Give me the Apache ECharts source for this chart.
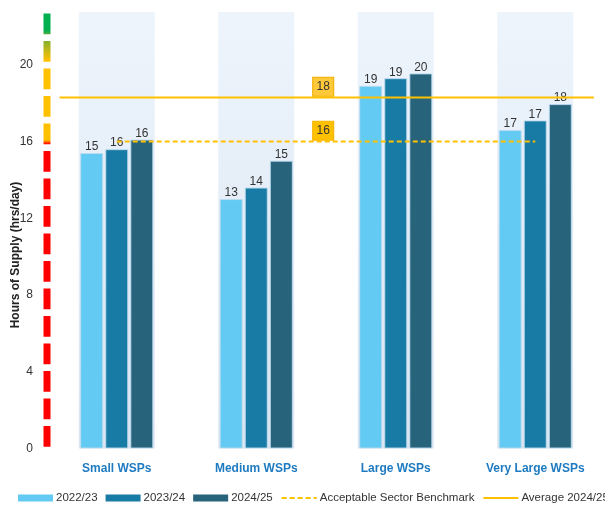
<!DOCTYPE html>
<html>
<head>
<meta charset="utf-8">
<script src="https://cdn.jsdelivr.net/npm/echarts@6/dist/echarts.min.js"></script>
<style>
html,body{margin:0;padding:0;background:#fff;}
#chart{width:605px;height:506px;}
</style>
</head>
<body>
<div id="chart"></div>
<script>
// ---- data ----
const categories = ['Small WSPs', 'Medium WSPs', 'Large WSPs', 'Very Large WSPs'];
const seriesNames = ['2022/23', '2023/24', '2024/25'];
const values2022 = [15.4, 13.0, 18.9, 16.6];
const values2023 = [15.6, 13.6, 19.3, 17.1];
const values2024 = [16.1, 15.0, 19.55, 17.95];
const benchmarkName = 'Acceptable Sector Benchmark';
const benchmarkValue = 16.0;
const benchmarkSpan = [0.5, 3.5];      // category-position extent
const averageName = 'Average 2024/25';
const averageValue = 18.3;
const averageSpan = [0.09, 3.92];
const refLabelPos = 1.98;
const yTicks = [0, 4, 8, 12, 16, 20];
const yMax = 22.75;
// colour band thresholds of the left indicator (hrs/day)
const bandRedTop = 15.8;
const bandYellowBottom = 16.0;
const bandYellowTop = 20.1;
const bandGreenBottom = 21.4;
const indicatorSpan = [22.67, -0.15];

const FONT = '"Liberation Sans", Arial, sans-serif';
const barColors = ['#63CBF3', '#187BA5', '#27647B'];
const YELLOW = '#FFC000';

const chart = echarts.init(document.getElementById('chart'), null, {renderer: 'canvas'});

function off(v) { return (v - indicatorSpan[1]) / (indicatorSpan[0] - indicatorSpan[1]); }

const indicatorGradient = new echarts.graphic.LinearGradient(0, 1, 0, 0, [
  {offset: 0, color: '#FF0000'},
  {offset: off(bandRedTop), color: '#FF0000'},
  {offset: off(bandYellowBottom), color: YELLOW},
  {offset: off(bandYellowTop), color: YELLOW},
  {offset: off(bandGreenBottom), color: '#5FAA3C'},
  {offset: off(bandGreenBottom) + 0.01, color: '#00B050'},
  {offset: 1, color: '#00B050'}
]);

const barSeries = [values2022, values2023, values2024].map((vals, i) => ({
  name: seriesNames[i],
  type: 'bar',
  xAxisIndex: 0,
  barWidth: 23,
  barGap: '9%',
  z: 3,
  data: vals,
  itemStyle: {color: barColors[i], borderColor: 'rgba(190,220,240,0.9)', borderWidth: 1},
  label: {
    show: true, position: 'top', distance: 0,
    color: '#333', fontSize: 12, fontFamily: FONT,
    formatter: p => Math.round(p.value)
  }
}));

function refLine(name, value, span, dashed, boxColor, boxBorder) {
  return {
    name: name,
    type: 'line',
    xAxisIndex: 1,
    symbol: 'none',
    z: 5,
    silent: true,
    data: [[span[0], value], [span[1], value]],
    lineStyle: {color: YELLOW, width: 2, type: dashed ? [5, 3] : 'solid'},
    itemStyle: {color: YELLOW},
    markPoint: {
      symbol: 'rect',
      symbolSize: [21, 19],
      symbolOffset: [0, -10.7],
      itemStyle: {color: boxColor, borderColor: boxBorder, borderWidth: 1},
      label: {show: true, position: 'inside', color: '#333', fontSize: 12, fontFamily: FONT,
              formatter: () => Math.round(value)},
      data: [{coord: [refLabelPos, value]}]
    }
  };
}

const option = {
  animation: false,
  textStyle: {fontFamily: FONT},
  grid: {left: 47, width: 564, top: 12, bottom: 57.5, containLabel: false},
  legend: {
    left: 13, top: 487, width: 900,
    itemWidth: 35, itemHeight: 7, itemGap: 8,
    textStyle: {fontSize: 11.5, color: '#333', fontFamily: FONT, padding: [0, 0, 0, -2]},
    data: [
      {name: seriesNames[0], icon: 'rect', itemStyle: {borderWidth: 0}},
      {name: seriesNames[1], icon: 'rect', itemStyle: {borderWidth: 0}},
      {name: seriesNames[2], icon: 'rect', itemStyle: {borderWidth: 0}},
      {name: benchmarkName, itemStyle: {opacity: 0}},
      {name: averageName, itemStyle: {opacity: 0}}
    ]
  },
  xAxis: [
    {
      type: 'category', data: categories, gridIndex: 0,
      axisLine: {show: false}, axisTick: {show: false},
      axisLabel: {color: '#1F7BC1', fontWeight: 'bold', fontSize: 12, margin: 14, interval: 0, fontFamily: FONT}
    },
    {type: 'value', min: 0, max: 4, show: false, gridIndex: 0},
    {type: 'category', data: categories, show: false, gridIndex: 0}
  ],
  yAxis: {
    type: 'value', min: 0, max: yMax, interval: 4,
    axisLine: {show: false}, axisTick: {show: false}, splitLine: {show: false},
    axisLabel: {
      color: '#333', fontSize: 12, margin: 14, fontFamily: FONT,
      formatter: v => (yTicks.indexOf(v) >= 0 ? String(v) : '')
    }
  },
  graphic: [{
    type: 'text', x: 16, y: 255, rotation: Math.PI / 2,
    style: {text: 'Hours of Supply (hrs/day)', fontSize: 12, fontWeight: 'bold', fill: '#222',
            fontFamily: FONT, align: 'center', verticalAlign: 'middle'}
  }],
  series: [
    {
      name: 'bg', type: 'bar', xAxisIndex: 2, barWidth: 76, z: 1, silent: true,
      data: categories.map(() => yMax),
      itemStyle: {color: new echarts.graphic.LinearGradient(0, 0, 0, 1, [
        {offset: 0, color: '#EDF4FC'}, {offset: 1, color: '#DBE6F2'}])}
    },
    ...barSeries,
    refLine(benchmarkName, benchmarkValue, benchmarkSpan, true, '#FFC000', '#F5B400'),
    refLine(averageName, averageValue, averageSpan, false, '#FFC93A', '#F0AE00'),
    {
      name: 'indicator', type: 'line', xAxisIndex: 1, symbol: 'none', clip: false, silent: true, z: 6,
      data: [[0, indicatorSpan[0]], [0, indicatorSpan[1]]],
      lineStyle: {width: 7, type: [20.7, 6.8], color: indicatorGradient, cap: 'butt'}
    }
  ]
};
chart.setOption(option);
</script>
</body>
</html>
